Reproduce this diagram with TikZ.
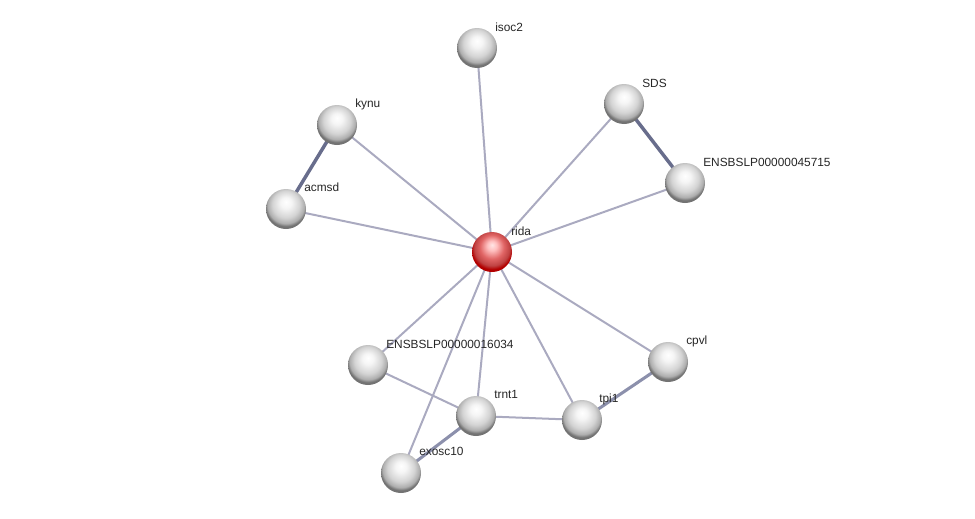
\documentclass[tikz,border=0pt]{standalone}
\usepackage{fontspec}
\setmainfont{Liberation Sans}
\usepackage{xcolor}
\usepackage{tikz}
\usetikzlibrary{positioning,backgrounds}

\definecolor{edgethin}{RGB}{170,170,192}
\definecolor{edgemid}{RGB}{140,144,172}
\definecolor{edgethick}{RGB}{104,109,140}
\definecolor{balledge}{RGB}{120,120,120}
\definecolor{ridaedge}{RGB}{150,40,48}

\pgfdeclareradialshading{greyball}{\pgfpoint{0bp}{9bp}}{%
  color(0bp)=(white); color(7bp)=(white!96!black); color(17bp)=(black!17);
  color(23bp)=(black!32); color(26bp)=(black!55); color(50bp)=(black!55)}
\pgfdeclareradialshading{redball}{\pgfpoint{0bp}{9bp}}{%
  color(0bp)=(white!90!red); color(6bp)=(red!25!white); color(15bp)=(red!55!white!88!black);
  color(22bp)=(red!65!white!75!black); color(26bp)=(red!70!black); color(50bp)=(red!70!black)}

\begin{document}
\begin{tikzpicture}[x=0.75pt,y=-0.75pt,
    every node/.style={font=\fontsize{8.9}{10}\selectfont},
    prot/.style={circle, minimum size=30pt, inner sep=0pt, shading=greyball},
    query/.style={circle, minimum size=30pt, inner sep=0pt, shading=redball},
    lbl/.style={anchor=base west, inner sep=0pt, text=black!85},
    weak/.style={draw=edgethin, line width=1.5pt},
    mid/.style={draw=edgemid, line width=2.3pt},
    strong/.style={draw=edgethick, line width=2.6pt}
  ]
  \useasboundingbox (0,0) rectangle (975,518);

  % proteins
  \node[query] (rida) at (492,252) {};
  \node[prot] (isoc2) at (477,48) {};
  \node[prot] (kynu) at (337,125) {};
  \node[prot] (acmsd) at (286,209) {};
  \node[prot] (sds) at (624,104) {};
  \node[prot] (e45715) at (685,183) {};
  \node[prot] (e16034) at (368,365) {};
  \node[prot] (cpvl) at (668,362) {};
  \node[prot] (trnt1) at (476,416) {};
  \node[prot] (tpi1) at (582,420) {};
  \node[prot] (exosc10) at (401,473) {};

  % names
  \node[lbl] (rida-t) at ([shift={(19,-17)}]rida.center) {rida};
  \node[lbl] (isoc2-t) at ([shift={(18,-17)}]isoc2.center) {isoc2};
  \node[lbl] (kynu-t) at ([shift={(18,-18)}]kynu.center) {kynu};
  \node[lbl] (acmsd-t) at ([shift={(18,-18)}]acmsd.center) {acmsd};
  \node[lbl] (sds-t) at ([shift={(18,-17)}]sds.center) {SDS};
  \node[lbl] (e45715-t) at ([shift={(18,-17)}]e45715.center) {ENSBSLP00000045715};
  \node[lbl] (e16034-t) at ([shift={(18,-17)}]e16034.center) {ENSBSLP00000016034};
  \node[lbl] (cpvl-t) at ([shift={(18,-18)}]cpvl.center) {cpvl};
  \node[lbl] (trnt1-t) at ([shift={(18,-18)}]trnt1.center) {trnt1};
  \node[lbl] (tpi1-t) at ([shift={(17,-18)}]tpi1.center) {tpi1};
  \node[lbl] (exosc10-t) at ([shift={(18,-18)}]exosc10.center) {exosc10};

  % interactions
  \begin{scope}[on background layer]
    \foreach \p in {isoc2,kynu,acmsd,sds,e45715,e16034,exosc10,trnt1,tpi1,cpvl}
      \draw[weak] (rida.center) -- (\p.center);
    \draw[weak] (e16034.center) -- (trnt1.center);
    \draw[weak] (trnt1.center) -- (tpi1.center);
    \draw[mid] (trnt1.center) -- (exosc10.center);
    \draw[mid] (cpvl.center) -- (tpi1.center);
    \draw[strong] (kynu.center) -- (acmsd.center);
    \draw[strong] (sds.center) -- (e45715.center);
  \end{scope}
\end{tikzpicture}
\end{document}
